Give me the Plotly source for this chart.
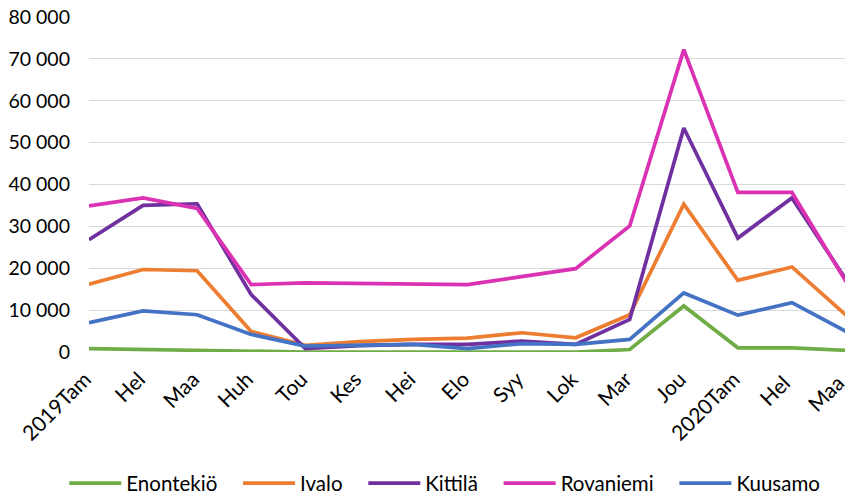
import plotly.graph_objects as go

months = ["2019Tam", "Hel", "Maa", "Huh", "Tou", "Kes", "Hei", "Elo", "Syy", "Lok",
          "Mar", "Jou", "2020Tam", "Hel ", "Maa "]

enontekio = [800, 600, 400, 0, 0, 0, 0, 0, 0, 0, 600, 11000, 1000, 1000, 400]
ivalo = [16200, 19700, 19400, 4900, 1600, 2500, 3000, 3300, 4600, 3400, 8900, 35300, 17100, 20300, 8800]
kittila = [26800, 35000, 35400, 13700, 800, 1500, 1800, 1800, 2600, 1800, 7800, 53500, 27200, 36800, 17300]
rovaniemi = [34900, 36800, 34300, 16100, 16500, 16300, 16100, 16100, 18000, 19900, 30100, 72200, 38100, 38100, 16800]
kuusamo = [7000, 9800, 8900, 4200, 1400, 1600, 1800, 800, 2000, 1800, 3000, 14100, 8800, 11800, 4900]

pad = "\u00a0\u00a0\u00a0"
series = [
    ("Enontekiö" + pad, enontekio, "#70AD47"),
    ("Ivalo" + pad, ivalo, "#ED7D31"),
    ("Kittilä" + pad, kittila, "#7030A0"),
    ("Rovaniemi" + pad, rovaniemi, "#DA32B2"),
    ("Kuusamo", kuusamo, "#4472C4"),
]

yticks = [0, 10000, 20000, 30000, 40000, 50000, 60000, 70000, 80000]
ytext = ["0", "10 000", "20 000", "30 000", "40 000", "50 000", "60 000", "70 000", "80 000"]

fig = go.Figure()
for name, vals, col in series:
    fig.add_trace(go.Scatter(x=months, y=vals, name=name, mode="lines",
                             line=dict(color=col, width=3.7)))

ffam = "Lato, Carlito, Calibri, sans-serif"
yfont = dict(family=ffam, size=19.5, color="#000000")
xfont = dict(family=ffam, size=21, color="#000000")
lfont = dict(family=ffam, size=20.5, color="#000000")
# page body has an 8px default margin, so the figure is sized to the remaining area
fig.update_layout(
    width=845, height=488, autosize=False,
    margin=dict(l=81, r=7, t=9, b=144, autoexpand=False),
    paper_bgcolor="white", plot_bgcolor="white",
    font=yfont,
    xaxis=dict(type="category", range=[0, 14], tickangle=-45, showgrid=False,
               showline=False, ticks="", tickfont=xfont, automargin=False,
               ticklabelstandoff=10, ticklabelshift=-4, ticklabeloverflow="allow"),
    yaxis=dict(range=[0, 80000], tickvals=yticks, ticktext=ytext, showgrid=True,
               gridcolor="#D9D9D9", gridwidth=1.3, zeroline=False, showline=False,
               tickfont=yfont, ticks="", automargin=False, ticklabelstandoff=18,
               ticklabeloverflow="allow"),
    legend=dict(orientation="h", x=0.47, xanchor="center", y=-0.392, yanchor="middle",
                font=lfont, itemwidth=52, traceorder="normal"),
    showlegend=True,
)
fig.write_html("out.html")
